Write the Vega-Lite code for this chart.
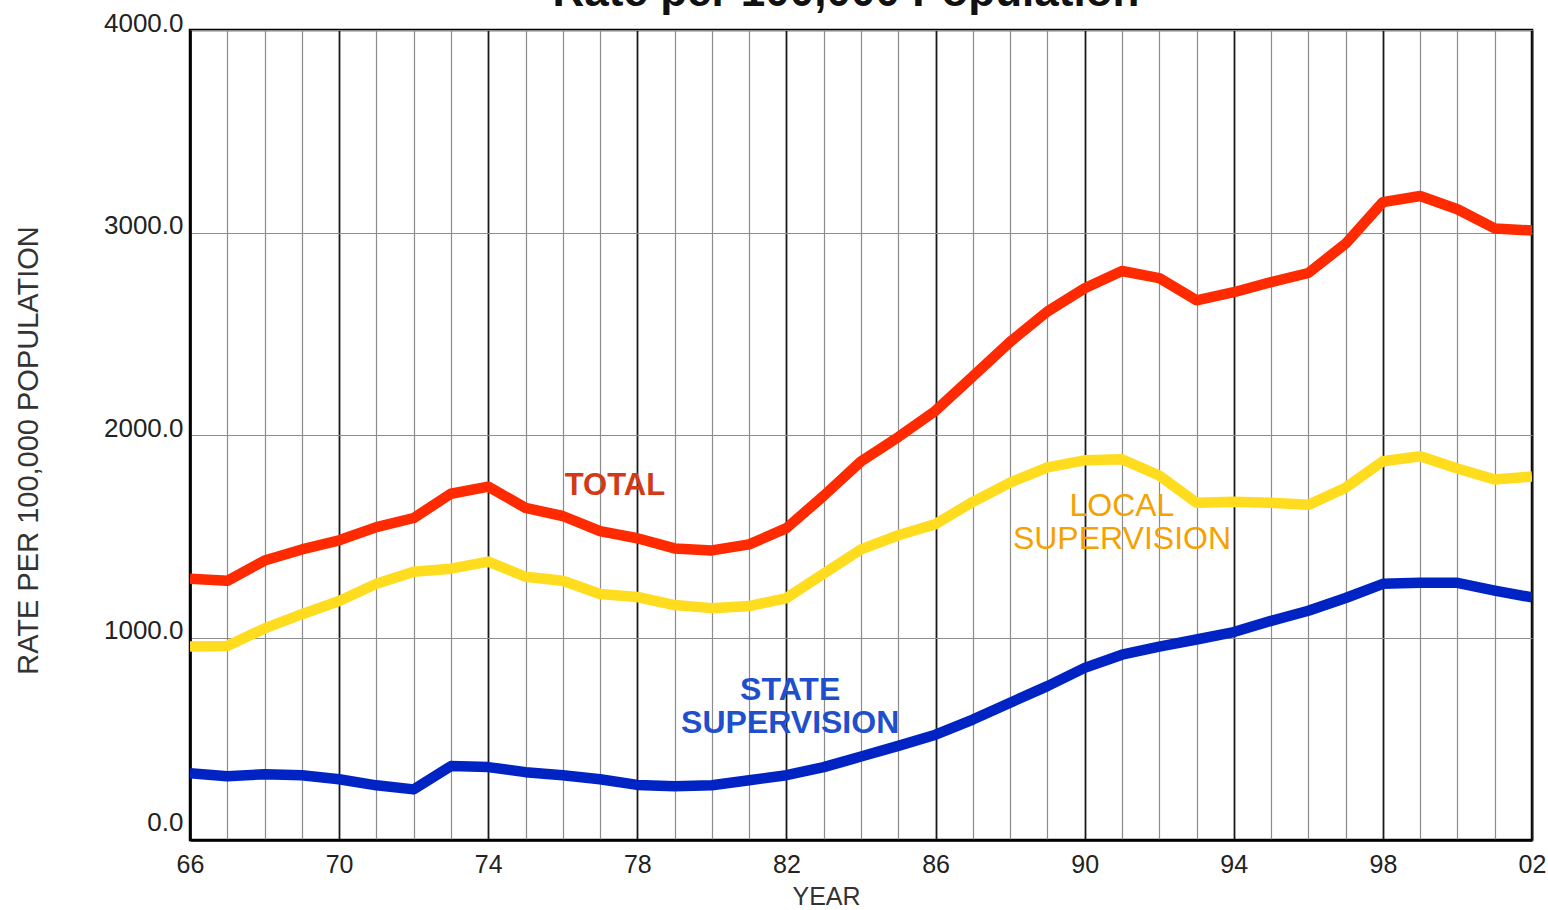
{
  "$schema": "https://vega.github.io/schema/vega-lite/v6.json",
  "width": 1342,
  "height": 810,
  "autosize": {"type": "none"},
  "padding": {"left": 190, "top": 30, "right": 16, "bottom": 70},
  "background": "white",
  "title": {"text": "Rate per 100,000 Population", "fontSize": 44, "fontWeight": "bold", "font": "Liberation Sans", "color": "#111", "anchor": "middle", "baseline": "alphabetic", "offset": 0, "dx": -15, "dy": 40},
  "config": {"view": {"stroke": "#000", "strokeWidth": 2.5}, "font": "Liberation Sans"},
  "datasets": {
    "series": [
      {"year":1966,"series":"Total","rate":1290},{"year":1967,"series":"Total","rate":1280},{"year":1968,"series":"Total","rate":1380},{"year":1969,"series":"Total","rate":1435},{"year":1970,"series":"Total","rate":1480},{"year":1971,"series":"Total","rate":1545},{"year":1972,"series":"Total","rate":1590},{"year":1973,"series":"Total","rate":1710},{"year":1974,"series":"Total","rate":1745},{"year":1975,"series":"Total","rate":1640},{"year":1976,"series":"Total","rate":1600},{"year":1977,"series":"Total","rate":1525},{"year":1978,"series":"Total","rate":1490},{"year":1979,"series":"Total","rate":1440},{"year":1980,"series":"Total","rate":1430},{"year":1981,"series":"Total","rate":1460},{"year":1982,"series":"Total","rate":1540},{"year":1983,"series":"Total","rate":1700},{"year":1984,"series":"Total","rate":1870},{"year":1985,"series":"Total","rate":1990},{"year":1986,"series":"Total","rate":2120},{"year":1987,"series":"Total","rate":2290},{"year":1988,"series":"Total","rate":2460},{"year":1989,"series":"Total","rate":2610},{"year":1990,"series":"Total","rate":2725},{"year":1991,"series":"Total","rate":2810},{"year":1992,"series":"Total","rate":2775},{"year":1993,"series":"Total","rate":2665},{"year":1994,"series":"Total","rate":2705},{"year":1995,"series":"Total","rate":2755},{"year":1996,"series":"Total","rate":2800},{"year":1997,"series":"Total","rate":2945},{"year":1998,"series":"Total","rate":3150},{"year":1999,"series":"Total","rate":3180},{"year":2000,"series":"Total","rate":3115},{"year":2001,"series":"Total","rate":3020},{"year":2002,"series":"Total","rate":3010},
      {"year":1966,"series":"Local","rate":955},{"year":1967,"series":"Local","rate":958},{"year":1968,"series":"Local","rate":1045},{"year":1969,"series":"Local","rate":1115},{"year":1970,"series":"Local","rate":1180},{"year":1971,"series":"Local","rate":1265},{"year":1972,"series":"Local","rate":1325},{"year":1973,"series":"Local","rate":1340},{"year":1974,"series":"Local","rate":1375},{"year":1975,"series":"Local","rate":1300},{"year":1976,"series":"Local","rate":1280},{"year":1977,"series":"Local","rate":1215},{"year":1978,"series":"Local","rate":1200},{"year":1979,"series":"Local","rate":1160},{"year":1980,"series":"Local","rate":1145},{"year":1981,"series":"Local","rate":1155},{"year":1982,"series":"Local","rate":1195},{"year":1983,"series":"Local","rate":1315},{"year":1984,"series":"Local","rate":1435},{"year":1985,"series":"Local","rate":1505},{"year":1986,"series":"Local","rate":1560},{"year":1987,"series":"Local","rate":1670},{"year":1988,"series":"Local","rate":1765},{"year":1989,"series":"Local","rate":1840},{"year":1990,"series":"Local","rate":1875},{"year":1991,"series":"Local","rate":1880},{"year":1992,"series":"Local","rate":1800},{"year":1993,"series":"Local","rate":1665},{"year":1994,"series":"Local","rate":1670},{"year":1995,"series":"Local","rate":1665},{"year":1996,"series":"Local","rate":1655},{"year":1997,"series":"Local","rate":1740},{"year":1998,"series":"Local","rate":1870},{"year":1999,"series":"Local","rate":1895},{"year":2000,"series":"Local","rate":1835},{"year":2001,"series":"Local","rate":1780},{"year":2002,"series":"Local","rate":1795},
      {"year":1966,"series":"State","rate":330},{"year":1967,"series":"State","rate":315},{"year":1968,"series":"State","rate":325},{"year":1969,"series":"State","rate":320},{"year":1970,"series":"State","rate":300},{"year":1971,"series":"State","rate":270},{"year":1972,"series":"State","rate":250},{"year":1973,"series":"State","rate":365},{"year":1974,"series":"State","rate":360},{"year":1975,"series":"State","rate":335},{"year":1976,"series":"State","rate":320},{"year":1977,"series":"State","rate":300},{"year":1978,"series":"State","rate":272},{"year":1979,"series":"State","rate":265},{"year":1980,"series":"State","rate":270},{"year":1981,"series":"State","rate":295},{"year":1982,"series":"State","rate":320},{"year":1983,"series":"State","rate":360},{"year":1984,"series":"State","rate":412},{"year":1985,"series":"State","rate":465},{"year":1986,"series":"State","rate":520},{"year":1987,"series":"State","rate":595},{"year":1988,"series":"State","rate":678},{"year":1989,"series":"State","rate":760},{"year":1990,"series":"State","rate":850},{"year":1991,"series":"State","rate":915},{"year":1992,"series":"State","rate":955},{"year":1993,"series":"State","rate":990},{"year":1994,"series":"State","rate":1027},{"year":1995,"series":"State","rate":1082},{"year":1996,"series":"State","rate":1132},{"year":1997,"series":"State","rate":1195},{"year":1998,"series":"State","rate":1265},{"year":1999,"series":"State","rate":1270},{"year":2000,"series":"State","rate":1270},{"year":2001,"series":"State","rate":1232},{"year":2002,"series":"State","rate":1198}
    ],
    "labels": [
      {"label":"TOTAL","series":"Total","year":1977.4,"rate":1748},
      {"label":"LOCAL\nSUPERVISION","series":"Local","year":1991.0,"rate":1649},
      {"label":"STATE\nSUPERVISION","series":"State","year":1982.1,"rate":741}
    ]
  },
  "layer": [
    {
      "data": {"name": "series"},
      "mark": {"type": "line", "strokeWidth": 10.5, "strokeJoin": "round", "strokeCap": "butt", "clip": true},
      "encoding": {
        "x": {"field": "year", "type": "quantitative",
          "scale": {"domain": [1966, 2002], "nice": false, "zero": false},
          "axis": {
            "values": [1966,1967,1968,1969,1970,1971,1972,1973,1974,1975,1976,1977,1978,1979,1980,1981,1982,1983,1984,1985,1986,1987,1988,1989,1990,1991,1992,1993,1994,1995,1996,1997,1998,1999,2000,2001,2002],
            "tickCount": 100,
            "labelExpr": "(datum.value - 1966) % 4 == 0 ? substring(toString(datum.value), 2) : ''",
            "labelOverlap": false,
            "labelFlush": false,
            "grid": true,
            "gridColor": {"condition": {"test": "(datum.value - 1966) % 4 == 0", "value": "#1a1a1a"}, "value": "#8c8c8c"},
            "gridWidth": {"condition": {"test": "(datum.value - 1966) % 4 == 0", "value": 1.8}, "value": 1.2},
            "ticks": false,
            "domainColor": "#000",
            "domainWidth": 2.5,
            "labelFontSize": 25,
            "labelColor": "#222",
            "labelPadding": 12,
            "title": "YEAR",
            "titleFontSize": 25,
            "titleFontWeight": "normal",
            "titleColor": "#333",
            "titleX": 636,
            "titleY": 56,
            "titleBaseline": "middle",
            "titleAlign": "center"
          }
        },
        "y": {"field": "rate", "type": "quantitative",
          "scale": {"domain": [0, 4000], "nice": false},
          "axis": {
            "values": [0, 1000, 2000, 3000, 4000],
            "format": ".1f",
            "grid": true,
            "gridColor": "#8c8c8c",
            "gridWidth": 1.2,
            "ticks": false,
            "domainColor": "#000",
            "domainWidth": 2.5,
            "labelFontSize": 26,
            "labelColor": "#222",
            "labelPadding": 7,
            "labelOffset": {"condition": {"test": "datum.value == 0", "value": -18}, "value": -7},
            "title": "RATE PER 100,000 POPULATION",
            "titleFontSize": 29,
            "titleFontWeight": "normal",
            "titleColor": "#333",
            "titleAngle": -90,
            "titleX": -162,
            "titleY": 420,
            "titleAlign": "center",
            "titleBaseline": "middle"
          }
        },
        "color": {"field": "series", "type": "nominal",
          "scale": {"domain": ["Total", "Local", "State"], "range": ["#ff2a00", "#ffdc1e", "#0023c4"]},
          "legend": null}
      }
    },
    {
      "data": {"name": "labels"},
      "transform": [{"filter": "datum.series == 'Total'"}],
      "mark": {"type": "text", "fontSize": 31, "fontWeight": "bold", "color": "#d23a16", "align": "center", "baseline": "middle", "lineBreak": "\n", "lineHeight": 33},
      "encoding": {
        "x": {"field": "year", "type": "quantitative"},
        "y": {"field": "rate", "type": "quantitative"},
        "text": {"field": "label"}
      }
    },
    {
      "data": {"name": "labels"},
      "transform": [{"filter": "datum.series == 'Local'"}],
      "mark": {"type": "text", "fontSize": 32, "fontWeight": "normal", "color": "#f5a200", "align": "center", "baseline": "middle", "lineBreak": "\n", "lineHeight": 33},
      "encoding": {
        "x": {"field": "year", "type": "quantitative"},
        "y": {"field": "rate", "type": "quantitative"},
        "text": {"field": "label"}
      }
    },
    {
      "data": {"name": "labels"},
      "transform": [{"filter": "datum.series == 'State'"}],
      "mark": {"type": "text", "fontSize": 32, "fontWeight": "bold", "color": "#1f4fcc", "align": "center", "baseline": "middle", "lineBreak": "\n", "lineHeight": 33},
      "encoding": {
        "x": {"field": "year", "type": "quantitative"},
        "y": {"field": "rate", "type": "quantitative"},
        "text": {"field": "label"}
      }
    }
  ]
}
